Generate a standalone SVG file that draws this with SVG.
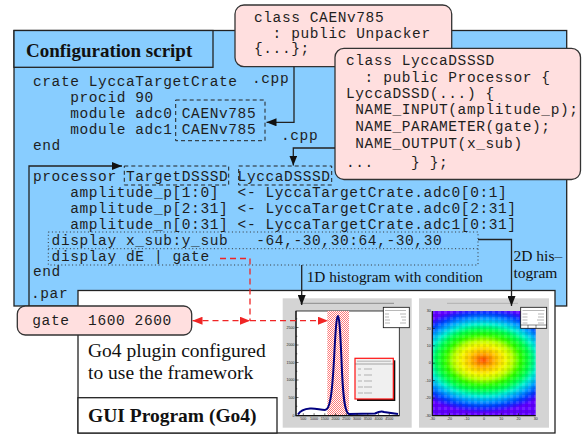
<svg xmlns="http://www.w3.org/2000/svg" width="582" height="435" viewBox="0 0 582 435">
<defs>
<style>
.mono{font-family:"Liberation Mono","Courier New",monospace;font-size:14.5px;letter-spacing:0.6px;fill:#1e1e1e;white-space:pre}
.serif{font-family:"Liberation Serif","Times New Roman",serif;fill:#111}
.bold{font-weight:bold}
.tick{font-family:"Liberation Sans",Arial,sans-serif;font-size:3.6px;fill:#222}
.dash{fill:none;stroke:#222;stroke-width:1;stroke-dasharray:4 3}
.dot{fill:none;stroke:#333;stroke-width:1;stroke-dasharray:1 2.6}
.con{fill:none;stroke:#222;stroke-width:1.3}
.red{fill:none;stroke:#f02525;stroke-width:1.3;stroke-dasharray:6 4}
.pink{fill:#ffdfdf;stroke:#333;stroke-width:1.3}
.panel{fill:#d4d4d4}
.faint{stroke:#888;stroke-width:0.6}
</style>
<marker id="ah" markerUnits="userSpaceOnUse" markerWidth="10" markerHeight="8" refX="10" refY="4" orient="auto"><path d="M0,0L10,4L0,8z" fill="#111"/></marker>
<marker id="rah" markerUnits="userSpaceOnUse" markerWidth="10" markerHeight="8" refX="10" refY="4" orient="auto-start-reverse"><path d="M0,0L10,4L0,8z" fill="#f02525"/></marker>
<pattern id="hatch" width="2" height="2" patternUnits="userSpaceOnUse"><rect width="2" height="2" fill="#ffffff"/><rect width="1" height="1" fill="#ff7a7a"/><rect x="1" y="1" width="1" height="1" fill="#ff7a7a"/></pattern>
<radialGradient id="heat" gradientUnits="userSpaceOnUse" cx="483" cy="360" r="80" gradientTransform="translate(483 360) scale(1 0.66) translate(-483 -360)">
<stop offset="0" stop-color="#ff4a00"/>
<stop offset="0.08" stop-color="#ff8a00"/>
<stop offset="0.17" stop-color="#ffc400"/>
<stop offset="0.28" stop-color="#f4f800"/>
<stop offset="0.37" stop-color="#b8ff00"/>
<stop offset="0.47" stop-color="#30ff00"/>
<stop offset="0.58" stop-color="#00ff50"/>
<stop offset="0.68" stop-color="#00f0d0"/>
<stop offset="0.78" stop-color="#00a0ff"/>
<stop offset="0.88" stop-color="#0040ff"/>
<stop offset="0.96" stop-color="#3a10ff"/>
<stop offset="1" stop-color="#6000ff"/>
</radialGradient>
<pattern id="px" width="6" height="6" patternUnits="userSpaceOnUse" x="432" y="311"><rect width="3" height="3" fill="#fff" opacity="0.12"/><rect x="3" y="3" width="3" height="3" fill="#000" opacity="0.08"/></pattern>
</defs>
<rect width="582" height="435" fill="#ffffff"/>

<g id="config-script">
<rect x="14" y="30.5" width="552.7" height="275.5" fill="#88cdff" stroke="#222" stroke-width="1.3"/>
<rect x="14" y="30.5" width="199" height="36.8" fill="#88cdff" stroke="#222" stroke-width="1.3"/>
<text class="serif bold" x="26" y="56.5" font-size="19">Configuration script</text>
<text class="mono" x="33" y="85.5">crate LyccaTargetCrate</text>
<text class="mono" x="70.2" y="101.5">procid 90</text>
<text class="mono" x="70.2" y="117.5">module adc0</text>
<text class="mono" x="70.2" y="133.5">module adc1</text>
<text class="mono" x="33" y="149.5">end</text>
<text class="mono" x="33" y="180.7">processor</text>
<text class="mono" x="70.2" y="196.7">amplitude_p[1:0]</text>
<text class="mono" x="70.2" y="212.7">amplitude_p[2:31]</text>
<text class="mono" x="70.2" y="228.7">amplitude_n[0:31]</text>
<text class="mono" x="237.6" y="196.7">&lt;- LyccaTargetCrate.adc0[0:1]</text>
<text class="mono" x="237.6" y="212.7">&lt;- LyccaTargetCrate.adc0[2:31]</text>
<text class="mono" x="237.6" y="228.7">&lt;- LyccaTargetCrate.adc1[0:31]</text>
<text class="mono" x="51.6" y="244.5">display x_sub:y_sub   -64,-30,30:64,-30,30</text>
<text class="mono" x="51.6" y="260.5">display dE | gate</text>
<text class="mono" x="33" y="276.3">end</text>
<text class="mono" x="31" y="298">.par</text>
</g>

<g id="module-caen">
<rect class="dash" x="175.7" y="100" width="89.3" height="40.7"/>
<text class="mono" x="181.8" y="117.5">CAENv785</text>
<text class="mono" x="181.8" y="133.5">CAENv785</text>
</g>

<g id="proc-target">
<rect class="dash" x="124.3" y="166" width="104.4" height="19"/>
<text class="mono" x="126" y="180.7">TargetDSSSD</text>
</g>

<g id="proc-lycca">
<rect class="dash" x="238.7" y="166" width="93" height="19"/>
<text class="mono" x="237.6" y="180.7">LyccaDSSSD</text>
</g>

<g id="display-lines">
<rect class="dot" x="48.3" y="232" width="429.7" height="33"/>
<line class="dot" x1="48.3" y1="248.7" x2="478" y2="248.7"/>
</g>

<g id="gui-program">
<rect x="78" y="290.5" width="477" height="142.5" fill="#ffffff" stroke="#222" stroke-width="1.3"/>
<text class="serif" x="88" y="356.7" font-size="19.5">Go4 plugin configured</text>
<text class="serif" x="88" y="378.5" font-size="19.5">to use the framework</text>
<rect x="78" y="397.7" width="199" height="35.3" fill="#ffffff" stroke="#222" stroke-width="1.3"/>
<text class="serif bold" x="88" y="421.7" font-size="19.5">GUI Program (Go4)</text>
</g>

<g id="hist-1d">
<rect class="panel" x="282.7" y="298.3" width="129" height="129.4"/>
<line x1="300" y1="303.3" x2="394" y2="303.3" stroke="#777" stroke-width="0.8"/>
<rect x="296" y="311" width="103.3" height="104.7" fill="#ffffff" stroke="#111" stroke-width="0.8"/>
<rect x="327.3" y="311" width="21.7" height="104.7" fill="url(#hatch)"/>
<path d="M298,414.5 C300,411 304,409 310,408.5 C316,408 320,410 325,410 C330,410 332,395 334,360 C336,320 337,316 338,316 C339,316 340,325 341.5,360 C343,400 345,413 349,414 L375,413.5 C378,412 381,410.5 384,412 L398,414" fill="none" stroke="#000080" stroke-width="2"/>
<path d="M296,311V415.7H399.3" fill="none" stroke="#111" stroke-width="1.2"/>
<path d="M296,327.5h2.5M296,345h2.5M296,362.5h2.5M296,380h2.5M296,397.5h2.5M296,318.8h1.3M296,336.3h1.3M296,353.8h1.3M296,371.3h1.3M296,388.8h1.3M296,406.3h1.3M303.3,415.7v-2.5M314.1,415.7v-2.5M324.8,415.7v-2.5M335.6,415.7v-2.5M346.3,415.7v-2.5M357.1,415.7v-2.5M367.8,415.7v-2.5M378.6,415.7v-2.5M389.3,415.7v-2.5" stroke="#111" stroke-width="0.6"/>
<text class="tick" text-anchor="end" x="294.5" y="328.7">2500</text>
<text class="tick" text-anchor="end" x="294.5" y="346.2">2000</text>
<text class="tick" text-anchor="end" x="294.5" y="363.7">1500</text>
<text class="tick" text-anchor="end" x="294.5" y="381.2">1000</text>
<text class="tick" text-anchor="end" x="294.5" y="398.7">500</text>
<text class="tick" text-anchor="end" x="294.5" y="416.7">0</text>
<text class="tick" text-anchor="middle" x="303.3" y="420">500</text>
<text class="tick" text-anchor="middle" x="314.1" y="420">1000</text>
<text class="tick" text-anchor="middle" x="324.8" y="420">1500</text>
<text class="tick" text-anchor="middle" x="335.6" y="420">2000</text>
<text class="tick" text-anchor="middle" x="346.3" y="420">2500</text>
<text class="tick" text-anchor="middle" x="357.1" y="420">3000</text>
<text class="tick" text-anchor="middle" x="367.8" y="420">3500</text>
<text class="tick" text-anchor="middle" x="378.6" y="420">4000</text>
<text class="tick" text-anchor="middle" x="389.3" y="420">4500</text>
<rect x="383.3" y="307.3" width="26" height="20.4" fill="#ffffff" stroke="#111" stroke-width="0.8"/>
<path class="faint" d="M385,310.5h21M385,314h4M400,314h6M385,317h4M401,317h5M385,320h5M402,320h4M385,323h5M400,323h6"/>
<rect x="357" y="360.3" width="38.3" height="40.7" fill="#111"/>
<rect x="355" y="358.3" width="38.3" height="40.7" fill="#f0f0f0" stroke="#ff1010" stroke-width="1.2"/>
<line x1="355" y1="364" x2="393.3" y2="364" stroke="#555" stroke-width="0.5"/>
<path class="faint" d="M357,361.2h34M358,369h3M364,369h8M358,375h3M364,375h8M358,381h4M364,381h8M358,387h5M364,387h8M358,393h5M364,393h8"/>
</g>

<g id="hist-2d">
<rect class="panel" x="419" y="298.3" width="130" height="129.4"/>
<line x1="447" y1="303.3" x2="518" y2="303.3" stroke="#999" stroke-width="0.6"/>
<rect x="432.3" y="311" width="103.4" height="104.7" fill="url(#heat)"/>
<rect x="432.3" y="311" width="103.4" height="104.7" fill="url(#px)"/>
<path d="M432.3,311V415.7H535.7" fill="none" stroke="#111" stroke-width="1.2"/>
<path d="M432.3,328.4h2.5M432.3,345.8h2.5M432.3,363.2h2.5M432.3,380.6h2.5M432.3,398h2.5M449.5,415.7v-2.5M466.8,415.7v-2.5M484,415.7v-2.5M501.3,415.7v-2.5M518.5,415.7v-2.5" stroke="#111" stroke-width="0.6"/>
<text class="tick" text-anchor="end" x="430.8" y="312.2">30</text>
<text class="tick" text-anchor="end" x="430.8" y="329.6">20</text>
<text class="tick" text-anchor="end" x="430.8" y="347">10</text>
<text class="tick" text-anchor="end" x="430.8" y="364.4">0</text>
<text class="tick" text-anchor="end" x="430.8" y="381.8">-10</text>
<text class="tick" text-anchor="end" x="430.8" y="399.2">-20</text>
<text class="tick" text-anchor="end" x="430.8" y="416.6">-30</text>
<text class="tick" text-anchor="middle" x="432.3" y="420">-30</text>
<text class="tick" text-anchor="middle" x="449.5" y="420">-20</text>
<text class="tick" text-anchor="middle" x="466.8" y="420">-10</text>
<text class="tick" text-anchor="middle" x="484" y="420">0</text>
<text class="tick" text-anchor="middle" x="501.3" y="420">10</text>
<text class="tick" text-anchor="middle" x="518.5" y="420">20</text>
<text class="tick" text-anchor="middle" x="535.7" y="420">30</text>
<rect x="520.7" y="307.3" width="26" height="21" fill="#ffffff" stroke="#111" stroke-width="0.8"/>
<path class="faint" d="M522.5,310.5h22M522.5,314h5M538,314h6M522.5,317h5M538,317h6M522.5,320h5M537,320h7M522.5,323h5M538,323h6"/>
<path d="M520.7,325h26M528,325v3.3M536,325v3.3" stroke="#111" stroke-width="0.5"/>
</g>

<g id="par-gate">
<rect class="pink" x="17.3" y="306" width="174.4" height="29" rx="8"/>
<text class="mono" x="32.3" y="325.3">gate  1600 2600</text>
</g>

<g id="class-caen">
<rect class="pink" x="235" y="5" width="216.7" height="61.7" rx="9"/>
<text class="mono" x="254" y="21.7">class CAENv785</text>
<text class="mono" x="254" y="37.7">  : public Unpacker</text>
<text class="mono" x="254" y="53.3">{...};</text>
</g>

<g id="class-lycca">
<rect class="pink" x="335" y="48.3" width="245.5" height="131.2" rx="9"/>
<text class="mono" x="346" y="65">class LyccaDSSSD</text>
<text class="mono" x="346" y="81.7">  : public Processor {</text>
<text class="mono" x="346" y="98.3">LyccaDSSD(...) {</text>
<text class="mono" x="346" y="114.3"> NAME_INPUT(amplitude_p);</text>
<text class="mono" x="346" y="131"> NAME_PARAMETER(gate);</text>
<text class="mono" x="346" y="148.3"> NAME_OUTPUT(x_sub)</text>
<text class="mono" x="346" y="166.7">...    } };</text>
</g>

<g id="connectors">
<path class="con" d="M294,66.7V122.3H266.5" marker-end="url(#ah)"/>
<text class="mono" x="252" y="82.5">.cpp</text>
<path class="con" d="M335,148H293.3V165.5" marker-end="url(#ah)"/>
<text class="mono" x="281" y="140">.cpp</text>
<path class="con" d="M29,306V166H122" marker-end="url(#ah)"/>
<path class="con" d="M301.7,265V305" marker-end="url(#ah)"/>
<text class="serif" x="306.7" y="281.7" font-size="15.3">1D histogram with condition</text>
<path class="con" d="M478,239.5H511.5V306" marker-end="url(#ah)"/>
<text class="serif" x="513.5" y="261" font-size="15.5">2D his–</text>
<text class="serif" x="513.5" y="277.5" font-size="15.5">togram</text>
<path class="red" d="M220,258.5H250V320.7"/>
<path class="red" d="M192.5,320.7H250" marker-start="url(#rah)" marker-end="url(#rah)"/>
<path class="red" d="M250,320.7H328" marker-end="url(#rah)"/>
</g>
</svg>
